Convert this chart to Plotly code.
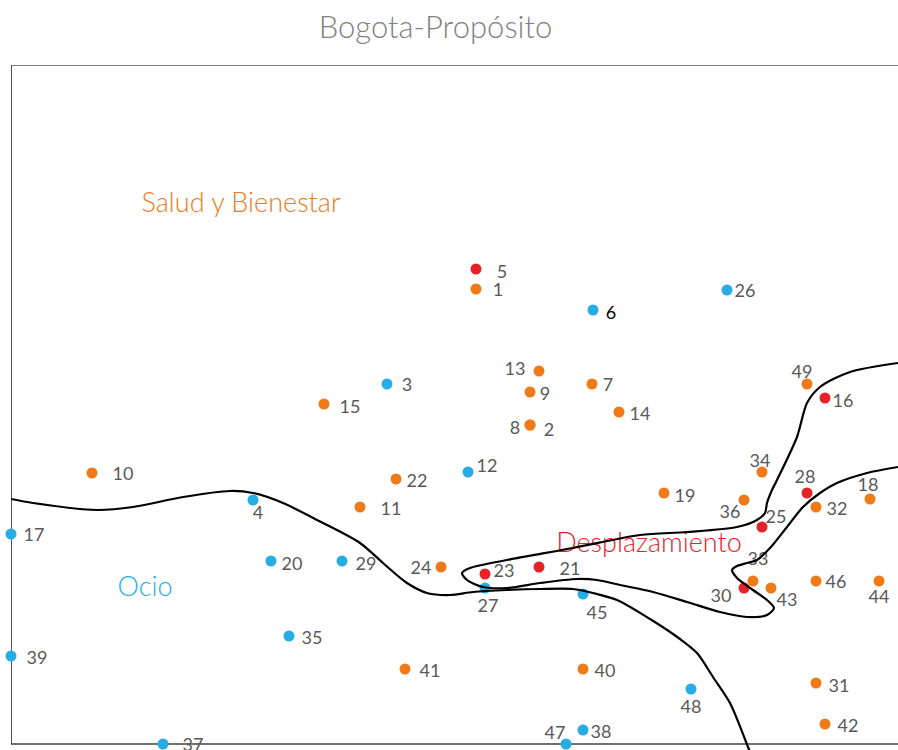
import plotly.graph_objects as go

# ---- data (map coordinates) ----
IDS = list(range(1, 50))
DIM1 = [465, 519, 376, 242, 465, 582, 581, 519, 519, 81,
        349, 457, 528, 608, 313, 814, 0, 859, 653, 260,
        528, 385, 474, 430, 751, 716, 474, 796, 331, 733,
        805, 805, 742, 751, 278, 733, 152, 572, 0, 572,
        394, 814, 760, 868, 572, 805, 555, 680, 796]
DIM2 = [455, 319, 360, 244, 475, 434, 360, 319, 352, 271,
        237, 272, 373, 332, 340, 346, 210, 245, 251, 183,
        177, 265, 170, 177, 217, 454, 156, 251, 183, 156,
        61, 237, 163, 272, 108, 244, 0, 14, 88, 75,
        75, 20, 156, 163, 150, 163, 0, 55, 360]
GROUP_D = [5, 16, 21, 23, 25, 28, 30]
GROUP_O = [3, 4, 6, 12, 17, 20, 26, 27, 29, 35, 37, 38, 39, 45, 47, 48]
CATEGORIES = ["Salud y Bienestar", "Ocio", "Desplazamiento"]
CATEGORY_POS = {"Salud y Bienestar": (230, 539), "Ocio": (134, 155), "Desplazamiento": (638, 199)}

CURVE_A_X = [887, 839, 809, 796, 786, 766, 761, 756, 754, 746, 726, 676, 629, 562, 496, 459, 451, 456,
             472, 496, 529, 566, 586, 609, 642, 676, 709, 736, 756, 763, 756, 742, 726, 721, 726, 736,
             746, 759, 776, 792, 809, 826, 856, 887]
CURVE_A_Y = [381, 372, 357, 341, 307, 264, 254, 241, 231, 224, 217, 212, 209, 196, 184, 176, 171, 164,
             157, 156, 161, 165, 164, 159, 152, 142, 132, 127, 129, 136, 144, 154, 166, 174, 178, 181,
             184, 196, 217, 237, 251, 261, 271, 277]
CURVE_B_X = [0, 22, 86, 122, 172, 219, 242, 272, 306, 349, 372, 396, 416, 439, 462, 496, 529, 562,
             582, 606, 639, 669, 686, 702, 719, 737, 739]
CURVE_B_Y = [245, 241, 234, 237, 247, 253, 251, 241, 224, 201, 181, 161, 151, 149, 152, 154, 155, 155,
             151, 144, 125, 105, 91, 67, 41, -3, -8]

# ---- label offsets (pixels: right, down) ----
LABEL_OFFSETS = {
    1: (22, 0), 2: (19, 4), 3: (20, 0), 4: (5, 12), 5: (26, 2), 6: (18, 2), 7: (16, 0), 8: (-15, 2),
    9: (15, 1), 10: (31, 0), 11: (31, 1), 12: (19, -7), 13: (-24, -3), 14: (21, 1), 15: (26, 2),
    16: (18, 2), 17: (23, 0), 18: (-2, -15), 19: (21, 2), 20: (21, 2), 21: (31, 1), 22: (21, 1),
    23: (19, -4), 24: (-20, 0), 25: (14, -11), 26: (18, 0), 27: (3, 17), 28: (-2, -17), 29: (24, 2),
    30: (-23, 7), 31: (23, 2), 32: (21, 1), 33: (5, -23), 34: (-2, -12), 35: (23, 1), 36: (-14, 11),
    37: (30, 0), 38: (18, 1), 39: (26, 1), 40: (22, 1), 41: (25, 1), 42: (23, 1), 43: (16, 11),
    44: (0, 15), 45: (14, 18), 46: (20, 0), 47: (-11, -12), 48: (0, 17), 49: (-5, -13),
}
LABEL_BASELINE_SHIFT = 2  # px down, to match the reference text baseline

ORANGE = "#EF7A17"
BLUE = "#27ACE3"
RED = "#E52227"
LABEL_GRAY = "#595959"
FONT = "Lato"


def colour(i):
    if i in GROUP_D:
        return RED
    if i in GROUP_O:
        return BLUE
    return ORANGE


fig = go.Figure()

# points
fig.add_trace(go.Scatter(
    x=DIM1, y=DIM2, mode="markers",
    marker=dict(size=11, color=[colour(i) for i in IDS], line=dict(width=0)),
    cliponaxis=False, hoverinfo="skip", showlegend=False))

# point labels (text trace so the curves sit above them)
lx = [DIM1[k] + LABEL_OFFSETS[i][0] for k, i in enumerate(IDS)]
ly = [DIM2[k] - LABEL_OFFSETS[i][1] - LABEL_BASELINE_SHIFT for k, i in enumerate(IDS)]
fig.add_trace(go.Scatter(
    x=lx, y=ly, mode="text", text=[str(i) for i in IDS], textposition="middle center",
    textfont=dict(family=FONT, size=18, color=["#000000" if i == 6 else LABEL_GRAY for i in IDS]),
    cliponaxis=False, hoverinfo="skip", showlegend=False))

# category labels
cat_colours = {"Salud y Bienestar": ORANGE, "Ocio": BLUE, "Desplazamiento": RED}
fig.add_trace(go.Scatter(
    x=[CATEGORY_POS[c][0] for c in CATEGORIES], y=[CATEGORY_POS[c][1] for c in CATEGORIES],
    mode="text", text=CATEGORIES, textposition="middle center",
    textfont=dict(family=FONT, size=27, weight=300, color=[cat_colours[c] for c in CATEGORIES]),
    cliponaxis=False, hoverinfo="skip", showlegend=False))

# boundary curves
for cx, cy in [(CURVE_A_X, CURVE_A_Y), (CURVE_B_X, CURVE_B_Y)]:
    fig.add_trace(go.Scatter(
        x=cx, y=cy, mode="lines", line=dict(color="black", width=2.2, shape="spline", smoothing=0.8),
        hoverinfo="skip", showlegend=False))

# frame (top, left, bottom)
fig.add_shape(type="line", xref="x", yref="y", x0=0, x1=900, y0=679, y1=679,
              line=dict(color="#808080", width=2), layer="below")
fig.add_shape(type="line", xref="x", yref="y", x0=0, x1=0, y0=0, y1=679,
              line=dict(color="#404040", width=1.8), layer="below")
fig.add_shape(type="line", xref="x", yref="y", x0=0, x1=900, y0=0, y1=0,
              line=dict(color="#404040", width=1.4), layer="below")

fig.update_layout(
    width=898, height=750,
    margin=dict(l=11, r=0, t=65, b=0),
    paper_bgcolor="white", plot_bgcolor="white",
    title=dict(text="Bogota-Propósito", x=0.485, xanchor="center", y=0.964, yanchor="middle",
               font=dict(family=FONT, size=31, weight=300, color="#7F7F7F")),
    xaxis=dict(range=[0, 887], visible=False, fixedrange=True),
    yaxis=dict(range=[-6, 679], visible=False, fixedrange=True),
)

fig.write_html("out.html", config={"displayModeBar": False},
               post_script="document.body.style.margin='0';")
